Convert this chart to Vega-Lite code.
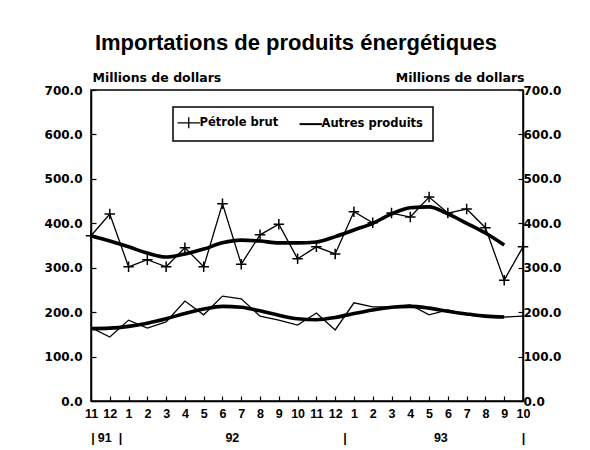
{
  "$schema": "https://vega.github.io/schema/vega-lite/v6.json",
  "width": 432,
  "height": 311,
  "autosize": {"type": "none"},
  "padding": {"left": 91, "top": 90, "right": 67, "bottom": 49},
  "background": "white",
  "title": {
    "text": "Importations de produits énergétiques",
    "font": "Liberation Sans",
    "fontSize": 22,
    "fontWeight": "bold",
    "color": "black",
    "anchor": "middle",
    "frame": "group",
    "offset": 16,
    "dx": -11
  },
  "config": {
    "view": {"stroke": "black", "strokeWidth": 1.5},
    "font": "DejaVu Sans",
    "axis": {
      "labelFont": "DejaVu Sans",
      "labelFontWeight": "bold",
      "labelFontSize": 12,
      "labelColor": "black",
      "domainColor": "black",
      "domainWidth": 1.5,
      "tickColor": "black",
      "tickWidth": 1.2,
      "grid": false,
      "titleFont": "DejaVu Sans",
      "titleFontWeight": "bold",
      "titleFontSize": 12.5,
      "titleColor": "black"
    }
  },
  "data": {
    "values": [
      {"i": 0, "serie": "Pétrole brut", "valeur": 372, "tendance": 372},
      {"i": 1, "serie": "Pétrole brut", "valeur": 421, "tendance": 360},
      {"i": 2, "serie": "Pétrole brut", "valeur": 302, "tendance": 347},
      {"i": 3, "serie": "Pétrole brut", "valeur": 318, "tendance": 333},
      {"i": 4, "serie": "Pétrole brut", "valeur": 302, "tendance": 324},
      {"i": 5, "serie": "Pétrole brut", "valeur": 345, "tendance": 331},
      {"i": 6, "serie": "Pétrole brut", "valeur": 302, "tendance": 342},
      {"i": 7, "serie": "Pétrole brut", "valeur": 444, "tendance": 356},
      {"i": 8, "serie": "Pétrole brut", "valeur": 308, "tendance": 362},
      {"i": 9, "serie": "Pétrole brut", "valeur": 374, "tendance": 360},
      {"i": 10, "serie": "Pétrole brut", "valeur": 398, "tendance": 356},
      {"i": 11, "serie": "Pétrole brut", "valeur": 320, "tendance": 356},
      {"i": 12, "serie": "Pétrole brut", "valeur": 347, "tendance": 358},
      {"i": 13, "serie": "Pétrole brut", "valeur": 331, "tendance": 370},
      {"i": 14, "serie": "Pétrole brut", "valeur": 426, "tendance": 385},
      {"i": 15, "serie": "Pétrole brut", "valeur": 401, "tendance": 400},
      {"i": 16, "serie": "Pétrole brut", "valeur": 423, "tendance": 421},
      {"i": 17, "serie": "Pétrole brut", "valeur": 414, "tendance": 435},
      {"i": 18, "serie": "Pétrole brut", "valeur": 459, "tendance": 437},
      {"i": 19, "serie": "Pétrole brut", "valeur": 423, "tendance": 421},
      {"i": 20, "serie": "Pétrole brut", "valeur": 432, "tendance": 400},
      {"i": 21, "serie": "Pétrole brut", "valeur": 390, "tendance": 378},
      {"i": 22, "serie": "Pétrole brut", "valeur": 272, "tendance": 351},
      {"i": 23, "serie": "Pétrole brut", "valeur": 347, "tendance": null},
      {"i": 0, "serie": "Autres produits", "valeur": 165, "tendance": 163},
      {"i": 1, "serie": "Autres produits", "valeur": 144, "tendance": 164},
      {"i": 2, "serie": "Autres produits", "valeur": 182, "tendance": 168},
      {"i": 3, "serie": "Autres produits", "valeur": 164, "tendance": 175},
      {"i": 4, "serie": "Autres produits", "valeur": 178, "tendance": 185},
      {"i": 5, "serie": "Autres produits", "valeur": 225, "tendance": 197},
      {"i": 6, "serie": "Autres produits", "valeur": 194, "tendance": 207},
      {"i": 7, "serie": "Autres produits", "valeur": 236, "tendance": 213},
      {"i": 8, "serie": "Autres produits", "valeur": 230, "tendance": 211},
      {"i": 9, "serie": "Autres produits", "valeur": 191, "tendance": 203},
      {"i": 10, "serie": "Autres produits", "valeur": 182, "tendance": 193},
      {"i": 11, "serie": "Autres produits", "valeur": 171, "tendance": 185},
      {"i": 12, "serie": "Autres produits", "valeur": 198, "tendance": 183},
      {"i": 13, "serie": "Autres produits", "valeur": 160, "tendance": 188},
      {"i": 14, "serie": "Autres produits", "valeur": 221, "tendance": 197},
      {"i": 15, "serie": "Autres produits", "valeur": 212, "tendance": 205},
      {"i": 16, "serie": "Autres produits", "valeur": 212, "tendance": 211},
      {"i": 17, "serie": "Autres produits", "valeur": 216, "tendance": 213},
      {"i": 18, "serie": "Autres produits", "valeur": 194, "tendance": 209},
      {"i": 19, "serie": "Autres produits", "valeur": 205, "tendance": 202},
      {"i": 20, "serie": "Autres produits", "valeur": 194, "tendance": 196},
      {"i": 21, "serie": "Autres produits", "valeur": 189, "tendance": 191},
      {"i": 22, "serie": "Autres produits", "valeur": 189, "tendance": 189},
      {"i": 23, "serie": "Autres produits", "valeur": 191, "tendance": null}
    ]
  },
  "layer": [
    {
      "encoding": {
        "x": {
          "field": "i",
          "type": "quantitative",
          "scale": {"domain": [0, 23], "nice": false, "zero": false},
          "axis": {
            "orient": "bottom",
            "title": null,
            "values": [0,1,2,3,4,5,6,7,8,9,10,11,12,13,14,15,16,17,18,19,20,21,22,23],
            "labelExpr": "['11','12','1','2','3','4','5','6','7','8','9','10','11','12','1','2','3','4','5','6','7','8','9','10'][datum.value]",
            "labelFont": "Liberation Sans",
            "labelFontSize": 12.5,
            "tickSize": -5,
            "labelPadding": 11,
            "labelFlush": false,
            "labelOverlap": false,
            "labelBound": false
          }
        },
        "y": {
          "type": "quantitative",
          "scale": {"domain": [0, 700], "nice": false, "zero": true},
          "axis": {
            "orient": "left",
            "title": "Millions de dollars",
            "titleAngle": 0,
            "titleAlign": "left",
            "titleBaseline": "middle",
            "titleX": 1,
            "titleY": -13,
            "values": [0, 100, 200, 300, 400, 500, 600, 700],
            "format": ".1f",
            "tickSize": -5,
            "labelPadding": 14
          }
        }
      },
      "layer": [
        {
          "mark": {"type": "line", "strokeWidth": 1.3, "strokeJoin": "miter"},
          "encoding": {
            "y": {"field": "valeur"},
            "color": {
              "field": "serie",
              "type": "nominal",
              "scale": {"domain": ["Pétrole brut", "Autres produits"], "range": ["black", "black"]},
              "legend": {
                "title": null,
                "orient": "none",
                "legendX": 82,
                "legendY": 17,
                "direction": "horizontal",
                "strokeColor": "black",
                "padding": 10,
                "columnPadding": 16,
                "labelOffset": 5,
                "labelFont": "DejaVu Sans",
                "labelFontWeight": "bold",
                "labelFontSize": 11.5,
                "labelColor": "black",
                "symbolSize": 500,
                "symbolStrokeWidth": 1.8,
                "symbolStrokeColor": "black",
                "encode": {
                  "legend": {"update": {"strokeWidth": {"value": 1.5}}},
                  "symbols": {
                    "update": {
                      "shape": {"signal": "datum.value === 'Pétrole brut' ? 'M-1,0H1M0,-0.5V0.5' : 'M-1,0H1'"},
                      "stroke": {"value": "black"},
                      "strokeWidth": {"signal": "datum.value === 'Pétrole brut' ? 1.3 : 2"}
                    }
                  }
                }
              }
            }
          }
        },
        {
          "transform": [{"filter": "datum.serie === 'Pétrole brut'"}],
          "mark": {"type": "point", "shape": "M-1,0H1M0,-1V1", "size": 110, "filled": false, "stroke": "black", "strokeWidth": 1.5, "opacity": 1},
          "encoding": {"y": {"field": "valeur"}}
        },
        {
          "mark": {"type": "line", "strokeWidth": 3.6, "color": "black", "interpolate": "monotone"},
          "encoding": {
            "y": {"field": "tendance"},
            "detail": {"field": "serie", "type": "nominal"}
          }
        }
      ]
    },
    {
      "mark": {"type": "point", "opacity": 0},
      "encoding": {
        "x": {
          "field": "i",
          "type": "quantitative",
          "scale": {"domain": [0, 23], "nice": false, "zero": false},
          "axis": {
            "orient": "bottom",
            "title": null,
            "domain": false,
            "ticks": false,
            "offset": 28,
            "values": [0.08, 0.7, 1.55, 7.5, 13.5, 18.6, 23],
            "labelExpr": "datum.value < 0.5 || (datum.value > 1 && datum.value < 2) || (datum.value > 13 && datum.value < 14) || datum.value > 22 ? '|' : datum.value < 1 ? '91' : datum.value < 10 ? '92' : '93'",
            "labelFont": "Liberation Sans",
            "labelFontSize": 12.5,
            "labelPadding": 2,
            "labelFlush": false,
            "labelOverlap": false,
            "labelBound": false
          }
        },
        "y": {
          "field": "valeur",
          "type": "quantitative",
          "scale": {"domain": [0, 700], "nice": false, "zero": true},
          "axis": {
            "orient": "right",
            "title": "Millions de dollars",
            "titleAngle": 0,
            "titleAlign": "right",
            "titleBaseline": "middle",
            "titleX": 1,
            "titleY": -13,
            "values": [0, 100, 200, 300, 400, 500, 600, 700],
            "format": ".1f",
            "tickSize": -5,
            "labelPadding": 5
          }
        }
      }
    }
  ],
  "resolve": {"scale": {"x": "independent", "y": "independent"}}
}
